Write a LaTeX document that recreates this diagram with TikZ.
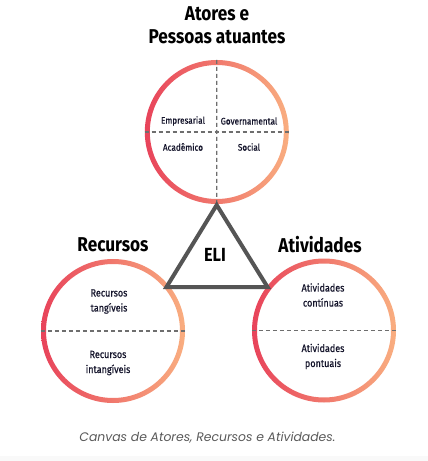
\documentclass[tikz,border=0pt]{standalone}
\usepackage{fontspec}
\setmainfont{Fira Sans}
\newfontfamily\capfont{Poppins}
\newfontfamily\condfont[FakeStretch=0.86]{Fira Sans}
\newfontfamily\medfont[FakeStretch=0.86,FakeBold=0.6]{Fira Sans}
\definecolor{cred}{HTML}{E8435A}
\definecolor{cpeach}{HTML}{F9AE80}
\definecolor{trigray}{HTML}{555555}
\definecolor{dashgray}{HTML}{6E6E6E}
\definecolor{captiongray}{HTML}{5A5A5A}
\definecolor{textnavy}{HTML}{14142B}
\newcommand\ringat[1]{\shade[left color=cred,right color=cpeach,even odd rule] (#1) circle (72pt) (#1) circle (67pt);}
\tikzset{
  holder/.style={circle,minimum size=144pt,inner sep=0pt},
  dashline/.style={dashgray,line width=1.3pt,dash pattern=on 4pt off 3pt},
  bigtitle/.style={align=center,text=black,font=\condfont\bfseries\fontsize{20}{23}\selectfont},
  small/.style={align=center,text=textnavy,font=\medfont\fontsize{9.5}{14.5}\selectfont},
  mid/.style={align=center,text=textnavy,font=\medfont\fontsize{10.5}{15}\selectfont},
}
\begin{document}
\begin{tikzpicture}[x=1pt,y=-1pt]
\useasboundingbox[fill=white] (0,0) rectangle (428,461);
\fill[gray!5] (0,456) rectangle (428,461);
% circles
\node[holder] (ctop) at (216.8,132) {};
\node[holder] (cleft) at (113,331) {};
\node[holder] (cright) at (324,330.5) {};
\ringat{ctop.center}
\ringat{cleft.center}
\ringat{cright.center}
% triangle corners
\coordinate (apex) at (216.7,205);
\coordinate (bl) at (166.5,287);
\coordinate (br) at (267.5,287);
% dashed lines
\draw[dashline] (ctop.west) -- (ctop.east);
\draw[dashline] (ctop.north) -- (apex);
\draw[dashline] (cleft.west) -- (cleft.east);
\draw[dashline] (cright.west) -- (cright.east);
% triangle
\draw[trigray,line width=4pt,line join=miter] (apex) -- (bl) -- (br) -- cycle;
\node[text=black,font=\condfont\bfseries\fontsize{19}{19}\selectfont] (eli) at (215,255) {ELI};
% titles
\node[bigtitle] (ttop) at (217,25) {Atores e\\Pessoas atuantes};
\node[bigtitle] (tleft) at (113,245) {Recursos};
\node[bigtitle] (tright) at (320,245) {Atividades};
% top quadrant labels
\node[small] (emp) at (183,121) {Empresarial};
\node[small] (gov) at (249,121) {Governamental};
\node[small] (aca) at (183,147) {Acadêmico};
\node[small] (soc) at (249,147) {Social};
% left circle labels
\node[mid] (rt) at (109,301.5) {Recursos\\tangíveis};
\node[mid] (ri) at (108,363) {Recursos\\intangíveis};
% right circle labels
\node[mid] (ac) at (323,295) {Atividades\\contínuas};
\node[mid] (ap) at (323,356.5) {Atividades\\pontuais};
% caption
\node[font=\capfont\itshape\fontsize{12.4}{12.4}\selectfont,text=captiongray] (cap) at (207.5,438) {Canvas de Atores, Recursos e Atividades.};
\end{tikzpicture}
\end{document}
